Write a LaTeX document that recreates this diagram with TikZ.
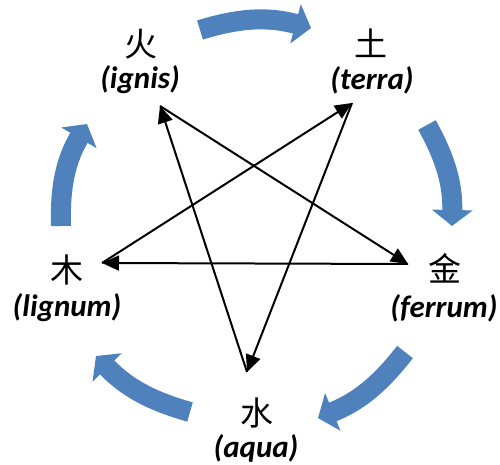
\documentclass[tikz,border=0pt]{standalone}
\usepackage{fontspec}
\setmainfont{Carlito}
\newfontfamily\cjk{Noto Sans CJK SC}
\usetikzlibrary{arrows.meta}
\definecolor{cycblue}{HTML}{4F81BD}
\tikzset{
  hanzi/.style={inner sep=0pt,font=\cjk\fontsize{33}{36}\selectfont},
  latin/.style={inner sep=0pt,font=\fontsize{31}{34}\selectfont\bfseries\itshape},
  ke/.style={-{Triangle[length=17pt,width=15pt]},line width=2pt,draw=black},
  sheng/.style={-{Triangle[length=16pt,width=40pt]},line width=20pt,draw=cycblue},
}
\begin{document}
\begin{tikzpicture}[x=1pt,y=-1pt]
  \useasboundingbox (0,0) rectangle (500,465);
  % element labels
  \node[hanzi] (fire) at (141,44) {火};
  \node[latin] (ignis) at (140,80) {(ignis)};
  \node[hanzi] (earth) at (371,43) {土};
  \node[latin] (terra) at (372,80) {(terra)};
  \node[hanzi] (metal) at (445,268) {金};
  \node[latin] (ferrum) at (444,308) {(ferrum)};
  \node[hanzi] (water) at (257,413) {水};
  \node[latin] (aqua) at (256,448) {(aqua)};
  \node[hanzi] (wood) at (67,270) {木};
  \node[latin] (lignum) at (67,308) {(lignum)};
  % star points
  \coordinate (fireP) at (160,106);
  \coordinate (earthP) at (352,103);
  \coordinate (metalP) at (408,264);
  \coordinate (waterP) at (247,372);
  \coordinate (woodP) at (102,263);
  % outer cycle
  \coordinate (s1) at (200,30);  \coordinate (e1) at (311,28);
  \coordinate (s2) at (427,125); \coordinate (e2) at (452,226);
  \coordinate (s3) at (405,352); \coordinate (e3) at (318,418);
  \coordinate (s4) at (190,412); \coordinate (e4) at (96,356);
  \coordinate (s5) at (61,226);  \coordinate (e5) at (87,124);
  \draw[sheng] (s1) to[bend left=16] (e1);
  \draw[sheng] (s2) to[bend left=15] (e2);
  \draw[sheng] (s3) to[bend left=15] (e3);
  \draw[sheng] (s4) to[bend left=15] (e4);
  \draw[sheng] (s5) to[bend left=16] (e5);
  % inner star
  \draw[ke] (woodP) -- (earthP);
  \draw[ke] (earthP) -- (waterP);
  \draw[ke] (waterP) -- (fireP);
  \draw[ke] (fireP) -- (metalP);
  \draw[ke] (metalP) -- (woodP);
\end{tikzpicture}
\end{document}
